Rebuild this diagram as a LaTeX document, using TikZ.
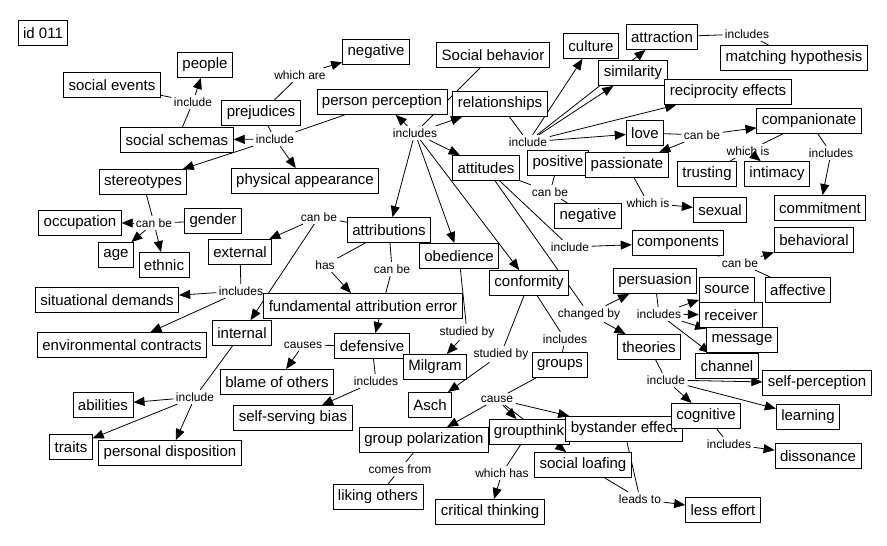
\documentclass[tikz,border=0pt]{standalone}
\usepackage{fontspec}
\setmainfont{Liberation Sans}
\usetikzlibrary{arrows.meta,backgrounds}
\tikzset{
  node-concept/.style={draw,line width=0.9pt,fill=white,inner xsep=5pt,
    inner ysep=0pt,minimum height=25pt,font=\fontsize{15}{15}\selectfont},
  node-link/.style={inner sep=2.5pt,font=\fontsize{12}{12}\selectfont},
  link/.style={line width=0.8pt},
  arrow/.style={link,-{Triangle[length=11pt,width=9pt]}},
}

\begin{document}
\begin{tikzpicture}[x=1pt,y=-1pt]
  \useasboundingbox (0,0) rectangle (887,546);
  % concepts
  \node[node-concept] (id)       at (43,33)   {id 011};
  \node[node-concept] (people)   at (205,65)  {people};
  \node[node-concept] (socev)    at (112,85)  {social events};
  \node[node-concept] (negtop)   at (376,52)  {negative};
  \node[node-concept] (socbeh)   at (493,55)  {Social behavior};
  \node[node-concept] (culture)  at (591,46)  {culture};
  \node[node-concept] (attract)  at (662,37)  {attraction};
  \node[node-concept] (matching) at (794,58)  {matching hypothesis};
  \node[node-concept] (simil)    at (633,73)  {similarity};
  \node[node-concept] (recip)    at (728,92)  {reciprocity effects};
  \node[node-concept] (prej)     at (261,113) {prejudices};
  \node[node-concept] (perc)     at (382,102) {person perception};
  \node[node-concept] (relat)    at (500,104) {relationships};
  \node[node-concept] (schemas)  at (177,140) {social schemas};
  \node[node-concept] (love)     at (645,133) {love};
  \node[node-concept] (compan)   at (809,121) {companionate};
  \node[node-concept] (attit)    at (486,168) {attitudes};
  \node[node-concept] (posit)    at (558,163) {positive};
  \node[node-concept] (passion)  at (627,165) {passionate};
  \node[node-concept] (trust)    at (707,174) {trusting};
  \node[node-concept] (intim)    at (777,174) {intimacy};
  \node[node-concept] (stereo)   at (143,182) {stereotypes};
  \node[node-concept] (physapp)  at (305,181) {physical appearance};
  \node[node-concept] (negmid)   at (588,216) {negative};
  \node[node-concept] (sexual)   at (720,210) {sexual};
  \node[node-concept] (commit)   at (820,208) {commitment};
  \node[node-concept] (occup)    at (80,223)  {occupation};
  \node[node-concept] (gender)   at (213,221) {gender};
  \node[node-concept] (age)      at (116,255) {age};
  \node[node-concept] (ethnic)   at (164,265) {ethnic};
  \node[node-concept] (extern)   at (240,252) {external};
  \node[node-concept] (attrib)   at (389,230) {attributions};
  \node[node-concept] (obed)     at (459,256) {obedience};
  \node[node-concept] (conform)  at (529,283) {conformity};
  \node[node-concept] (compon)   at (678,243) {components};
  \node[node-concept] (behav)    at (814,240) {behavioral};
  \node[node-concept] (persu)    at (655,281) {persuasion};
  \node[node-concept] (source)   at (727,290) {source};
  \node[node-concept] (affect)   at (798,290) {affective};
  \node[node-concept] (receiv)   at (731,315) {receiver};
  \node[node-concept] (message)  at (742,340) {message};
  \node[node-concept] (situat)   at (107,300) {situational demands};
  \node[node-concept] (fae)      at (363,306) {fundamental attribution error};
  \node[node-concept] (intern)   at (242,333) {internal};
  \node[node-concept] (environ)  at (122,345) {environmental contracts};
  \node[node-concept] (defens)   at (372,346) {defensive};
  \node[node-concept] (milgram)  at (435,367) {Milgram};
  \node[node-concept] (groups)   at (560,365) {groups};
  \node[node-concept] (theories) at (649,347) {theories};
  \node[node-concept] (channel)  at (727,366) {channel};
  \node[node-concept] (selfperc) at (817,383) {self-perception};
  \node[node-concept] (blame)    at (277,382) {blame of others};
  \node[node-concept] (abil)     at (103,405) {abilities};
  \node[node-concept] (selfserv) at (293,418) {self-serving bias};
  \node[node-concept] (asch)     at (430,405) {Asch};
  \node[node-concept] (grouppol) at (424,440) {group polarization};
  \node[node-concept] (groupth)  at (529,432) {groupthink};
  \node[node-concept] (bystand)  at (624,429) {bystander effect};
  \node[node-concept] (cognit)   at (706,416) {cognitive};
  \node[node-concept] (learning) at (808,417) {learning};
  \node[node-concept] (traits)   at (71,447)  {traits};
  \node[node-concept] (persdisp) at (170,453) {personal disposition};
  \node[node-concept] (loafing)  at (583,465) {social loafing};
  \node[node-concept] (disson)   at (818,456) {dissonance};
  \node[node-concept] (liking)   at (378,497) {liking others};
  \node[node-concept] (critic)   at (490,512) {critical thinking};
  \node[node-concept] (lesseff)  at (723,510) {less effort};
  % linking phrases
  \node[node-link] (l-whichare) at (300,75)  {which are};
  \node[node-link] (l-inclA)    at (193,102) {include};
  \node[node-link] (l-inclB)    at (275,139) {include};
  \node[node-link] (l-inclC)    at (415,133) {includes};
  \node[node-link] (l-inclD)    at (528,142) {include};
  \node[node-link] (l-canbeA)   at (702,135) {can be};
  \node[node-link] (l-inclE)    at (747,34)  {includes};
  \node[node-link] (l-whichisA) at (748,151) {which is};
  \node[node-link] (l-inclF)    at (831,153) {includes};
  \node[node-link] (l-whichisB) at (648,203) {which is};
  \node[node-link] (l-canbeB)   at (550,192) {can be};
  \node[node-link] (l-canbeF)   at (154,223) {can be};
  \node[node-link] (l-inclG)    at (570,247) {include};
  \node[node-link] (l-changed)  at (589,314) {changed by};
  \node[node-link] (l-canbeC)   at (740,263) {can be};
  \node[node-link] (l-inclH)    at (659,314) {includes};
  \node[node-link] (l-inclI)    at (666,380) {include};
  \node[node-link] (l-inclJ)    at (729,444) {includes};
  \node[node-link] (l-canbeD)   at (319,217) {can be};
  \node[node-link] (l-has)      at (325,265) {has};
  \node[node-link] (l-canbeE)   at (392,269) {can be};
  \node[node-link] (l-inclK)    at (241,291) {includes};
  \node[node-link] (l-inclL)    at (195,397) {include};
  \node[node-link] (l-causes)   at (303,345) {causes};
  \node[node-link] (l-inclM)    at (376,381) {includes};
  \node[node-link] (l-studA)    at (467,332) {studied by};
  \node[node-link] (l-studB)    at (501,354) {studied by};
  \node[node-link] (l-inclN)    at (565,339) {includes};
  \node[node-link] (l-cause)    at (497,399) {cause};
  \node[node-link] (l-comes)    at (400,469) {comes from};
  \node[node-link] (l-whichhas) at (502,473) {which has};
  \node[node-link] (l-leads)    at (640,499) {leads to};

  \begin{pgfonlayer}{background}
    \draw[link] (prej) -- (l-whichare);
    \draw[arrow] (l-whichare) -- (negtop);
    \draw[link] (schemas) -- (l-inclA);
    \draw[arrow] (l-inclA) -- (people);
    \draw[link] (l-inclA) -- (socev);
    \draw[link] (prej) -- (l-inclB);
    \draw[link] (perc) -- (l-inclB);
    \draw[arrow] (l-inclB) -- (schemas);
    \draw[arrow] (l-inclB) -- (stereo);
    \draw[arrow] (l-inclB) -- (physapp);
    \draw[link] (stereo) -- (l-canbeF);
    \draw[arrow] (l-canbeF) -- (occup);
    \draw[link] (l-canbeF) -- (gender);
    \draw[arrow] (l-canbeF) -- (age);
    \draw[arrow] (l-canbeF) -- (ethnic);
    \draw[link] (socbeh) -- (l-inclC);
    \draw[arrow] (l-inclC) -- (perc);
    \draw[arrow] (l-inclC) -- (relat);
    \draw[arrow] (l-inclC) -- (attit);
    \draw[arrow] (l-inclC) -- (attrib);
    \draw[arrow] (l-inclC) -- (obed);
    \draw[arrow] (l-inclC) -- (conform);
    \draw[link] (relat) -- (l-inclD);
    \draw[arrow] (l-inclD) -- (culture);
    \draw[arrow] (l-inclD) -- (attract);
    \draw[arrow] (l-inclD) -- (simil);
    \draw[arrow] (l-inclD) -- (recip);
    \draw[arrow] (l-inclD) -- (love);
    \draw[link] (love) -- (l-canbeA);
    \draw[arrow] (l-canbeA) -- (compan);
    \draw[arrow] (l-canbeA) -- (passion);
    \draw[link] (attract) -- (l-inclE);
    \draw[link] (l-inclE) -- (matching);
    \draw[link] (compan) -- (l-whichisA);
    \draw[link] (l-whichisA) -- (trust);
    \draw[arrow] (l-whichisA) -- (intim);
    \draw[link] (compan) -- (l-inclF);
    \draw[arrow] (l-inclF) -- (commit);
    \draw[link] (passion) -- (l-whichisB);
    \draw[arrow] (l-whichisB) -- (sexual);
    \draw[link] (attit) -- (l-canbeB);
    \draw[link] (l-canbeB) -- (posit);
    \draw[link] (l-canbeB) -- (negmid);
    \draw[link] (attit) -- (l-inclG);
    \draw[arrow] (l-inclG) -- (compon);
    \draw[link] (attit) -- (l-changed);
    \draw[arrow] (l-changed) -- (persu);
    \draw[arrow] (l-changed) -- (theories);
    \draw[link] (compon) -- (l-canbeC);
    \draw[arrow] (l-canbeC) -- (behav);
    \draw[link] (l-canbeC) -- (affect);
    \draw[link] (persu) -- (l-inclH);
    \draw[arrow] (l-inclH) -- (source);
    \draw[arrow] (l-inclH) -- (receiv);
    \draw[arrow] (l-inclH) -- (message);
    \draw[arrow] (l-inclH) -- (channel);
    \draw[link] (theories) -- (l-inclI);
    \draw[arrow] (l-inclI) -- (selfperc);
    \draw[arrow] (l-inclI) -- (learning);
    \draw[arrow] (l-inclI) -- (cognit);
    \draw[link] (cognit) -- (l-inclJ);
    \draw[arrow] (l-inclJ) -- (disson);
    \draw[link] (attrib) -- (l-canbeD);
    \draw[arrow] (l-canbeD) -- (extern);
    \draw[arrow] (l-canbeD) -- (intern);
    \draw[link] (attrib) -- (l-has);
    \draw[arrow] (l-has) -- (fae);
    \draw[link] (attrib) -- (l-canbeE);
    \draw[arrow] (l-canbeE) -- (defens);
    \draw[link] (extern) -- (l-inclK);
    \draw[arrow] (l-inclK) -- (situat);
    \draw[arrow] (l-inclK) -- (environ);
    \draw[link] (intern) -- (l-inclL);
    \draw[arrow] (l-inclL) -- (abil);
    \draw[arrow] (l-inclL) -- (traits);
    \draw[arrow] (l-inclL) -- (persdisp);
    \draw[link] (defens) -- (l-causes);
    \draw[arrow] (l-causes) -- (blame);
    \draw[link] (defens) -- (l-inclM);
    \draw[arrow] (l-inclM) -- (selfserv);
    \draw[link] (obed) -- (l-studA);
    \draw[arrow] (l-studA) -- (milgram);
    \draw[link] (conform) -- (l-studB);
    \draw[arrow] (l-studB) -- (asch);
    \draw[link] (conform) -- (l-inclN);
    \draw[link] (l-inclN) -- (groups);
    \draw[link] (groups) -- (l-cause);
    \draw[arrow] (l-cause) -- (grouppol);
    \draw[arrow] (l-cause) -- (groupth);
    \draw[arrow] (l-cause) -- (bystand);
    \draw[arrow] (l-cause) -- (loafing);
    \draw[link] (grouppol) -- (l-comes);
    \draw[link] (l-comes) -- (liking);
    \draw[link] (groupth) -- (l-whichhas);
    \draw[arrow] (l-whichhas) -- (critic);
    \draw[link] (bystand) -- (l-leads);
    \draw[link] (loafing) -- (l-leads);
    \draw[arrow] (l-leads) -- (lesseff);
  \end{pgfonlayer}
\end{tikzpicture}
\end{document}
